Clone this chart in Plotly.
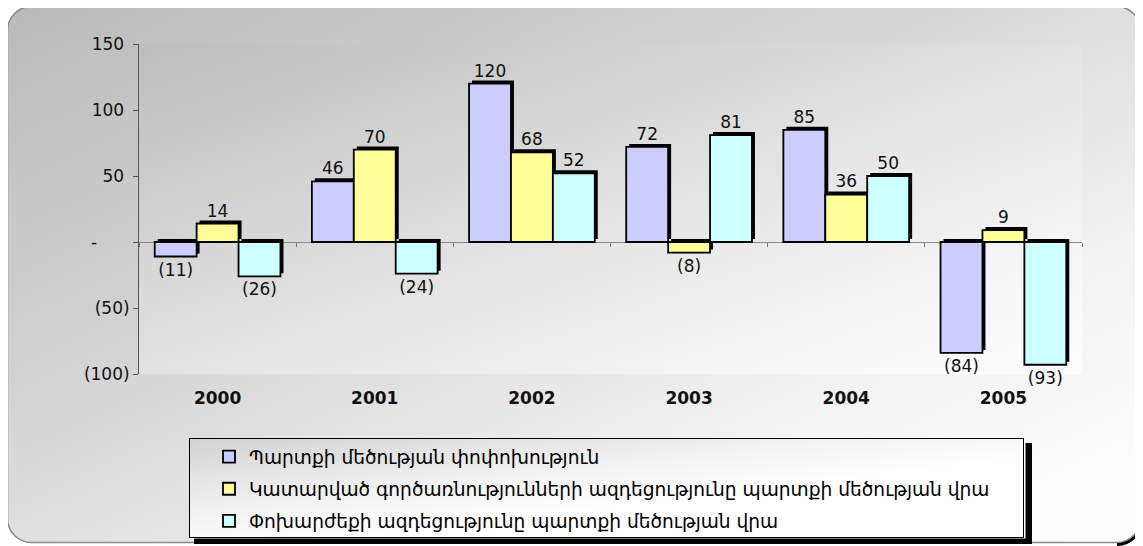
import base64
import plotly.graph_objects as go

# ---------------- data ----------------
years = ["2000", "2001", "2002", "2003", "2004", "2005"]
debt_change = [-11, 46, 120, 72, 85, -84]
operations_effect = [14, 70, 68, -8, 36, 9]
exchange_effect = [-26, -24, 52, 81, 50, -93]
series_names = [
    "Պարտքի մեծության փոփոխություն",
    "Կատարված գործառնությունների ազդեցությունը պարտքի մեծության վրա",
    "Փոխարժեքի ազդեցությունը պարտքի մեծության վրա",
]
series_colors = ["#CCCCFF", "#FFFF99", "#CCFFFF"]
y_tickvals = [-100, -50, 0, 50, 100, 150]
y_ticktext = ["(100)", "(50)", "-" + "\u00a0" * 6, "50\u00a0", "100\u00a0", "150\u00a0"]

# ---------------- geometry (page pixels, page has 8px body offset) ----------------
OFF = 8
PAGE_W, PAGE_H = 1143, 546
W, H = PAGE_W - OFF, PAGE_H - OFF
PL, PT, PR, PB = 139, 44, 1082, 374          # plot area in page px
L, T = PL - OFF, PT - OFF
R, B = PAGE_W - PR, PAGE_H - PB
PW, PH = PR - PL, PB - PT
X_RANGE = [-0.5, 5.5]
Y_RANGE = [-100, 150]
shadow_dx = 3 * (X_RANGE[1] - X_RANGE[0]) / PW
shadow_dy = 3 * (Y_RANGE[1] - Y_RANGE[0]) / PH


def fmt(v):
    return f"({abs(v)})" if v < 0 else str(v)


def p(v):
    return v - OFF


# ---------------- background svg (figure px) ----------------
svg = f'''<svg xmlns="http://www.w3.org/2000/svg" width="{W}" height="{H}" viewBox="0 0 {W} {H}" preserveAspectRatio="none">
<defs>
<linearGradient id="og" x1="0" y1="0" x2="1" y2="1">
<stop offset="0" stop-color="#bababa"/><stop offset="0.4" stop-color="#d6d6d6"/>
<stop offset="0.7" stop-color="#f1f1f1"/><stop offset="0.9" stop-color="#fcfcfc"/>
<stop offset="1" stop-color="#ffffff"/></linearGradient>
<linearGradient id="pg" x1="0" y1="0" x2="1" y2="1">
<stop offset="0" stop-color="#bdbdbd"/><stop offset="0.55" stop-color="#e6e6e6"/>
<stop offset="0.85" stop-color="#f8f8f8"/><stop offset="1" stop-color="#fdfdfd"/></linearGradient>
<linearGradient id="lg" x1="0" y1="0" x2="1" y2="1">
<stop offset="0" stop-color="#d2d2d2"/><stop offset="0.35" stop-color="#f0f0f0"/>
<stop offset="0.6" stop-color="#ffffff"/><stop offset="1" stop-color="#ffffff"/></linearGradient>
</defs>
<path d="M{p(1141)},{p(520)} A24,24 0 0 1 {p(1117)},{p(544)}" fill="none" stroke="#000" stroke-width="4"/>
<rect x="{p(7.5)}" y="{p(6.5)}" width="1133" height="536" rx="24" ry="24" fill="url(#og)" stroke="#8a8a8a" stroke-width="1.5"/>
<rect x="{L}" y="{T}" width="{PW}" height="{PH}" fill="url(#pg)"/>
<rect x="{p(194)}" y="{p(443)}" width="838" height="101" fill="#000"/>
<rect x="{p(189.5)}" y="{p(438.5)}" width="836" height="100" fill="#ffffff" stroke="none"/>
<rect x="{p(189.5)}" y="{p(438.5)}" width="834" height="99" fill="url(#lg)" stroke="#000" stroke-width="1"/>
</svg>'''
svg_uri = "data:image/svg+xml;base64," + base64.b64encode(svg.encode("utf-8")).decode()

fig = go.Figure()

series = [debt_change, operations_effect, exchange_effect]

# shadows (base subplot, slightly shifted axes)
for vals in series:
    fig.add_trace(go.Bar(
        x=years, y=vals, xaxis="x", yaxis="y",
        marker=dict(color="#000000", line=dict(width=0)),
        showlegend=False, hoverinfo="skip",
    ))

# main bars
for i, (vals, name, col) in enumerate(zip(series, series_names, series_colors)):
    fig.add_trace(go.Bar(
        x=years, y=vals, xaxis="x2", yaxis="y2", name=name,
        legendgroup=f"g{i}",
        marker=dict(color=col, line=dict(color="#000000", width=1.8)),
        text=[fmt(v) for v in vals], textposition="outside",
        textfont=dict(family="DejaVu Sans", size=17, color="#111111"),
        constraintext="none", cliponaxis=False,
    ))

# empty trace so the zero-line tick axis is registered
fig.add_trace(go.Scatter(x=[], y=[], xaxis="x3", yaxis="y2", showlegend=False, hoverinfo="skip"))

fig.update_layout(
    width=W, height=H,
    margin=dict(l=L, r=R, t=T, b=B, pad=0, autoexpand=False),
    paper_bgcolor="#ffffff", plot_bgcolor="rgba(0,0,0,0)",
    font=dict(family="DejaVu Sans", size=17, color="#111111"),
    barmode="group", bargap=0.2, bargroupgap=0,
    xaxis=dict(type="category", range=[X_RANGE[0] - shadow_dx, X_RANGE[1] - shadow_dx],
               visible=False, anchor="y", domain=[0, 1]),
    yaxis=dict(range=[Y_RANGE[0] - shadow_dy, Y_RANGE[1] - shadow_dy], visible=False, anchor="x"),
    xaxis2=dict(type="category", overlaying="x", anchor="y2", side="bottom", range=X_RANGE,
                showline=False, ticks="", showgrid=False, zeroline=False,
                tickfont=dict(family="DejaVu Sans", size=17, color="#111111", weight="bold"),
                ticklabelstandoff=12),
    yaxis2=dict(overlaying="y", anchor="x2", side="left", range=Y_RANGE,
                tickmode="array", tickvals=y_tickvals, ticktext=y_ticktext,
                showline=True, linecolor="#555555", linewidth=1,
                ticks="outside", ticklen=5, tickcolor="#555555",
                showgrid=False, zeroline=True, zerolinecolor="#8a8a8a", zerolinewidth=1,
                tickfont=dict(family="DejaVu Sans", size=17, color="#111111")),
    xaxis3=dict(overlaying="x", anchor="free", position=(0 - Y_RANGE[0]) / (Y_RANGE[1] - Y_RANGE[0]),
                type="linear", range=X_RANGE, tickmode="array",
                tickvals=[k - 0.5 for k in range(len(years) + 1)],
                ticks="outside", ticklen=4, tickcolor="#777777",
                showticklabels=False, showline=False, showgrid=False, zeroline=False),
    legend=dict(x=(209 - PL) / PW, xanchor="left", y=(PB - 438) / PH, yanchor="top",
                bgcolor="rgba(0,0,0,0)", borderwidth=0, tracegroupgap=5,
                font=dict(family="DejaVu Sans", size=18.6, color="#000000")),
    images=[dict(source=svg_uri, xref="paper", yref="paper",
                 x=-L / PW, y=1 + T / PH, sizex=W / PW, sizey=H / PH,
                 xanchor="left", yanchor="top", sizing="stretch", layer="below")],
)

fig.write_html("out.html")
